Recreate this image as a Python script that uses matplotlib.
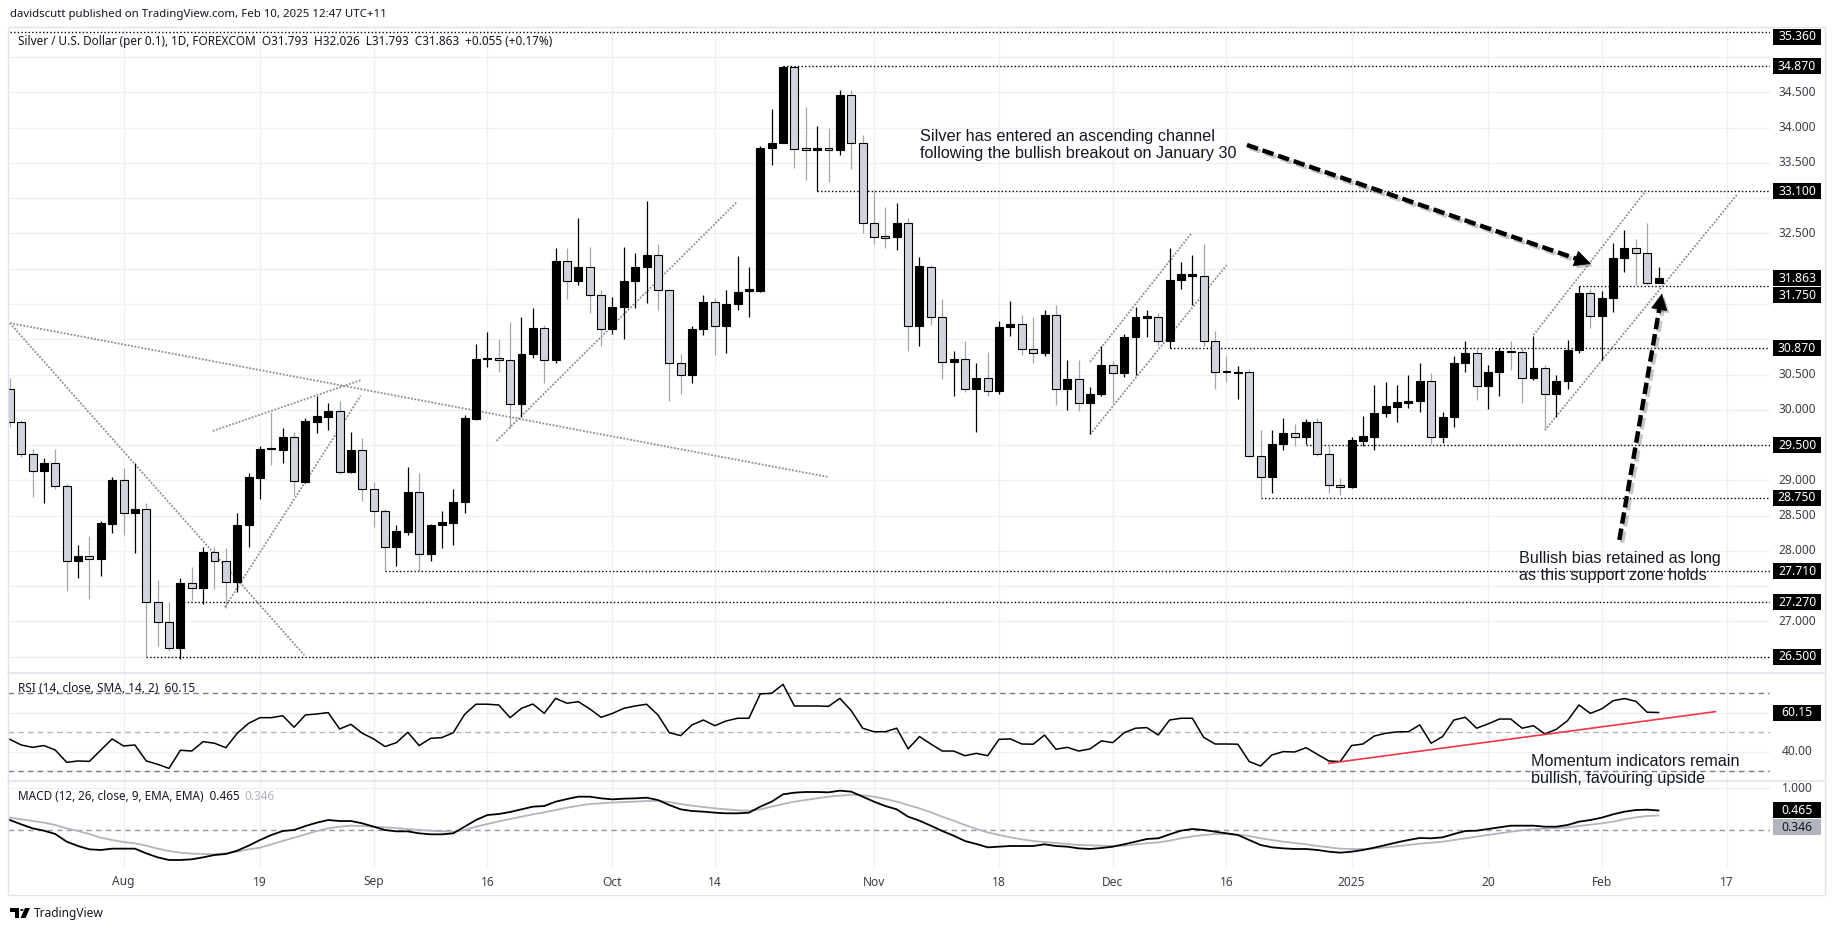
import numpy as np
import pandas as pd
import matplotlib
matplotlib.use("Agg")
import matplotlib.pyplot as plt
import matplotlib.patheffects as pe
from matplotlib import transforms
from matplotlib.patches import Rectangle, Polygon, Circle
from matplotlib.lines import Line2D

W, H = 1835, 931

# daily bars, no bar on Christmas and New Year's day
dates = pd.bdate_range("2024-07-18", "2025-02-10")
dates = dates[~dates.isin(pd.to_datetime(["2024-12-25", "2025-01-01"]))]

opens = [30.30, 29.82, 29.38, 29.13, 29.24, 28.92, 27.85, 27.92, 27.88, 28.38,
         29.00, 28.53, 28.59, 27.27, 26.99, 26.62, 27.55, 27.47, 27.98, 27.85, 27.56, 28.36, 29.04, 29.46, 29.43, 29.61, 28.98, 29.83, 29.90, 29.98, 29.12, 29.43,
         28.87, 28.56, 28.05, 28.27, 28.83, 27.95, 28.36, 28.40, 28.69, 29.87, 30.72, 30.73, 30.70, 30.08, 30.79, 31.16, 30.70, 32.11, 31.83, 32.03, 31.63,
         31.15, 31.46, 31.83, 32.02, 32.19, 31.70, 30.67, 30.50, 31.15, 31.53, 31.19, 31.50, 31.68, 31.69, 33.71, 33.79, 34.86, 33.71, 33.68, 33.71, 33.68, 34.46, 33.78,
         32.65, 32.46, 32.45, 32.65, 31.19, 32.03, 31.31, 30.68, 30.72, 30.30, 30.45, 30.26, 31.17, 31.21, 30.86, 30.80, 31.34, 30.30, 30.43, 30.09, 30.23,
         30.64, 30.52, 31.03, 31.30, 31.32, 30.97, 31.84, 31.90, 31.90, 30.97, 30.55, 30.52, 30.53, 29.35, 29.05, 29.52, 29.67, 29.62, 29.83, 29.38, 28.94,
         28.90, 29.56, 29.62, 29.96, 30.04, 30.10, 30.13, 30.41, 29.62, 29.90, 30.67, 30.81, 30.34, 30.53, 30.83, 30.82, 30.45, 30.59, 30.22, 30.41, 30.85, 31.65,
         31.33, 31.59, 32.15, 32.30, 32.22, 31.793]
highs = [30.45, 29.86, 29.44, 29.32, 29.45, 28.95, 28.08, 28.21, 28.42, 29.05,
         29.18, 29.24, 28.68, 27.59, 27.27, 27.61, 27.77, 28.05, 28.05, 28.04, 28.54, 29.10, 29.48, 29.97, 29.74, 29.69, 29.89, 30.20, 30.09, 30.12, 29.68, 29.60,
         28.97, 28.60, 28.37, 29.19, 29.11, 28.38, 28.56, 28.88, 29.93, 30.93, 31.10, 31.00, 31.24, 31.32, 31.44, 31.20, 32.29, 32.29, 32.72, 32.31, 31.70,
         31.60, 32.31, 32.22, 32.96, 32.35, 31.72, 30.79, 31.19, 31.63, 31.58, 31.70, 32.18, 32.02, 33.74, 34.27, 34.87, 34.87, 34.30, 34.02, 33.99, 34.54, 34.53, 33.90,
         33.12, 32.87, 32.93, 32.72, 32.16, 32.05, 31.57, 30.83, 30.98, 30.67, 30.82, 31.26, 31.54, 31.34, 31.32, 31.41, 31.49, 30.71, 30.71, 30.32, 30.91,
         30.69, 31.08, 31.46, 31.42, 31.37, 32.29, 32.10, 32.19, 32.35, 31.12, 30.76, 30.62, 30.58, 29.71, 29.71, 29.88, 29.80, 29.87, 29.89, 29.52, 29.04,
         29.61, 29.91, 30.35, 30.39, 30.35, 30.49, 30.67, 30.52, 29.97, 30.76, 30.98, 30.87, 30.63, 30.87, 30.97, 30.89, 31.05, 30.63, 30.49, 30.99, 31.75, 31.72,
         31.68, 32.37, 32.55, 32.42, 32.65, 32.026]
lows = [29.75, 29.33, 28.76, 28.68, 28.88, 27.43, 27.61, 27.32, 27.64, 28.26,
        28.22, 27.97, 26.50, 26.65, 26.58, 26.47, 27.30, 27.24, 27.46, 27.19, 27.42, 28.06, 28.74, 29.22, 29.24, 28.79, 28.96, 29.67, 29.72, 29.09, 29.11, 28.71,
        28.34, 27.71, 27.78, 28.22, 27.71, 27.85, 28.04, 28.08, 28.54, 29.86, 30.61, 30.53, 29.74, 29.90, 30.74, 30.38, 30.66, 31.57, 31.77, 31.37, 30.90,
        31.08, 31.01, 31.44, 31.51, 31.42, 30.13, 30.22, 30.38, 31.06, 30.78, 30.80, 31.42, 31.32, 31.67, 33.47, 33.78, 33.43, 33.26, 33.10, 33.23, 33.62, 33.42, 32.51,
        32.35, 32.30, 32.26, 30.84, 30.90, 31.20, 30.44, 30.20, 30.25, 29.69, 30.19, 30.22, 31.05, 30.78, 30.66, 30.76, 30.07, 30.00, 29.99, 29.66, 30.20,
        30.09, 30.47, 30.50, 31.03, 30.90, 30.87, 31.72, 31.49, 30.90, 30.29, 30.40, 30.15, 29.33, 28.76, 28.82, 29.43, 29.49, 29.52, 29.34, 28.82, 28.79,
        28.89, 29.49, 29.43, 29.90, 29.82, 30.02, 29.97, 29.52, 29.53, 29.76, 30.53, 30.14, 30.01, 30.20, 30.57, 30.10, 30.42, 29.71, 29.90, 30.30, 30.80, 31.16,
        30.71, 31.38, 31.96, 31.77, 31.77, 31.793]
closes = [29.83, 29.38, 29.13, 29.24, 28.92, 27.85, 27.93, 27.88, 28.40, 29.00,
          28.53, 28.59, 27.27, 26.99, 26.62, 27.55, 27.47, 27.98, 27.85, 27.56, 28.37, 29.05, 29.45, 29.44, 29.61, 28.99, 29.84, 29.91, 29.98, 29.12, 29.43, 28.87,
          28.56, 28.05, 28.28, 28.83, 27.95, 28.37, 28.41, 28.69, 29.88, 30.72, 30.74, 30.70, 30.08, 30.79, 31.16, 30.71, 32.11, 31.83, 32.03, 31.63, 31.15,
          31.46, 31.83, 32.02, 32.19, 31.70, 30.67, 30.50, 31.15, 31.53, 31.19, 31.50, 31.67, 31.71, 33.71, 33.79, 34.86, 33.70, 33.69, 33.71, 33.68, 34.46, 33.78, 32.65,
          32.45, 32.44, 32.65, 31.19, 32.04, 31.31, 30.68, 30.72, 30.30, 30.45, 30.26, 31.18, 31.21, 30.86, 30.80, 31.34, 30.30, 30.43, 30.09, 30.23, 30.64,
          30.52, 31.03, 31.31, 31.33, 30.97, 31.84, 31.92, 31.92, 30.97, 30.54, 30.53, 30.54, 29.35, 29.05, 29.52, 29.67, 29.62, 29.83, 29.38, 28.94, 28.90,
          29.57, 29.63, 29.96, 30.05, 30.11, 30.13, 30.41, 29.62, 29.90, 30.67, 30.81, 30.34, 30.53, 30.83, 30.82, 30.45, 30.59, 30.22, 30.41, 30.85, 31.65, 31.33,
          31.59, 32.15, 32.30, 32.22, 31.80, 31.863]

rsi = [46.4, 43.5, 42.3, 43.2, 40.9, 34.6, 35.3, 35.1, 40.9, 46.6,
       43.0, 43.5, 35.3, 33.6, 31.5, 40.8, 40.4, 45.2, 44.4, 42.1, 49.5, 54.6, 57.5, 57.5, 58.5, 52.6, 58.9, 59.4, 60.1, 51.7, 54.1, 49.5,
       46.6, 42.7, 44.7, 50.0, 43.2, 46.9, 47.3, 49.8, 59.2, 64.4, 64.4, 64.0, 57.5, 62.3, 64.5, 59.7, 67.4, 64.9, 65.7, 62.0, 57.7,
       59.7, 62.3, 63.5, 64.4, 58.9, 49.8, 48.3, 53.8, 56.3, 53.4, 55.8, 57.2, 57.2, 69.7, 70.0, 74.6, 63.5, 63.5, 63.5, 63.3, 67.4, 61.1, 52.1,
       50.3, 50.3, 52.1, 41.5, 47.8, 44.0, 40.4, 40.4, 38.0, 39.2, 38.0, 46.4, 46.6, 44.0, 43.9, 48.6, 41.3, 42.3, 40.4, 41.5, 45.6,
       44.7, 49.8, 52.1, 52.4, 48.6, 56.3, 57.2, 57.2, 47.4, 44.0, 44.0, 43.9, 35.0, 32.7, 38.4, 40.1, 39.9, 42.1, 38.7, 35.3, 35.0,
       43.2, 44.0, 48.1, 49.5, 50.2, 50.3, 53.8, 44.4, 47.8, 56.3, 57.7, 52.1, 54.3, 56.8, 56.8, 52.1, 53.4, 49.1, 51.5, 56.0, 64.0, 59.7,
       62.0, 66.2, 67.3, 65.9, 60.3, 60.15]

macd = [0.238, 0.135, 0.040, -0.016, -0.095, -0.278, -0.381, -0.460, -0.476, -0.444,
        -0.444, -0.444, -0.556, -0.651, -0.714, -0.714, -0.698, -0.651, -0.595, -0.571, -0.492, -0.373, -0.238, -0.119, -0.024, 0.000, 0.095, 0.175, 0.238, 0.214, 0.214, 0.159,
        0.079, 0.000, -0.032, -0.032, -0.079, -0.103, -0.103, -0.079, 0.079, 0.238, 0.357, 0.381, 0.429, 0.492, 0.556, 0.571, 0.675, 0.738, 0.794, 0.794, 0.754,
        0.730, 0.746, 0.754, 0.770, 0.714, 0.595, 0.492, 0.452, 0.437, 0.413, 0.397, 0.397, 0.413, 0.556, 0.675, 0.849, 0.889, 0.905, 0.905, 0.897, 0.937, 0.913, 0.794,
        0.675, 0.571, 0.492, 0.317, 0.222, 0.103, -0.024, -0.135, -0.262, -0.333, -0.413, -0.397, -0.381, -0.381, -0.381, -0.341, -0.381, -0.397, -0.437, -0.452, -0.429,
        -0.397, -0.341, -0.278, -0.214, -0.198, -0.103, -0.016, 0.024, 0.000, -0.040, -0.079, -0.119, -0.238, -0.357, -0.413, -0.437, -0.452, -0.452, -0.476, -0.516, -0.540,
        -0.516, -0.476, -0.421, -0.357, -0.294, -0.238, -0.190, -0.198, -0.175, -0.095, -0.024, -0.016, 0.024, 0.063, 0.103, 0.103, 0.103, 0.079, 0.079, 0.119, 0.198, 0.238,
        0.294, 0.373, 0.437, 0.476, 0.484, 0.465]
signal = [0.294, 0.254, 0.214, 0.175, 0.119, 0.040, -0.024, -0.095, -0.183, -0.238,
          -0.286, -0.317, -0.373, -0.444, -0.500, -0.540, -0.563, -0.571, -0.579, -0.556, -0.516, -0.460, -0.421, -0.341, -0.262, -0.183, -0.103, -0.024, 0.040, 0.079, 0.103, 0.095,
          0.079, 0.063, 0.048, 0.024, 0.000, -0.016, -0.032, -0.040, 0.000, 0.079, 0.143, 0.206, 0.262, 0.317, 0.373, 0.421, 0.476, 0.532, 0.579, 0.619, 0.635,
          0.655, 0.665, 0.675, 0.690, 0.695, 0.665, 0.619, 0.579, 0.548, 0.516, 0.492, 0.468, 0.460, 0.492, 0.556, 0.619, 0.675, 0.714, 0.754, 0.794, 0.817, 0.841, 0.825,
          0.794, 0.738, 0.675, 0.595, 0.516, 0.421, 0.317, 0.222, 0.119, 0.024, -0.056, -0.119, -0.175, -0.222, -0.262, -0.286, -0.310, -0.333, -0.357, -0.365, -0.373,
          -0.381, -0.373, -0.341, -0.317, -0.294, -0.254, -0.198, -0.151, -0.119, -0.095, -0.095, -0.111, -0.143, -0.198, -0.238, -0.278, -0.310, -0.341, -0.381, -0.413, -0.444,
          -0.452, -0.452, -0.437, -0.413, -0.389, -0.357, -0.325, -0.302, -0.278, -0.238, -0.198, -0.159, -0.119, -0.079, -0.040, -0.008, 0.016, 0.032, 0.048, 0.063, 0.095, 0.127,
          0.159, 0.198, 0.254, 0.302, 0.333, 0.346]

# horizontal levels drawn on the chart and the bar they start from
levels = [35.36, 34.87, 33.10, 31.75, 30.87, 29.50, 28.75, 27.71, 27.27, 26.50]
level_from = ["2024-07-18", "2024-10-22", "2024-10-25", "2025-01-30", "2024-12-09",
              "2024-12-26", "2024-12-19", "2024-09-03", "2024-08-08", "2024-08-05"]

# trend lines / channels, (bar index, price) pairs
trend_lines = [((0.0, 31.23), (25.9, 26.52)),
               ((0.0, 31.23), (71.9, 29.05)),
               ((17.85, 29.70), (30.85, 30.42)),
               ((18.9, 27.20), (30.85, 30.20)),
               ((42.8, 29.56), (63.9, 32.94)),
               ((95.0, 30.68), (103.9, 32.50)),
               ((95.0, 29.65), (107.0, 32.05)),
               ((134.0, 31.06), (143.9, 33.11)),
               ((135.0, 29.71), (151.9, 33.05))]
rsi_trend = ((116.0, 34.1), (150.0, 60.6))

tick_dates = ["2024-08-01", "2024-08-19", "2024-09-02", "2024-09-16", "2024-10-01", "2024-10-14",
              "2024-11-01", "2024-11-18", "2024-12-02", "2024-12-16", "2025-01-02", "2025-01-20", "2025-02-03"]
tick_labels = ["Aug", "19", "Sep", "16", "Oct", "14", "Nov", "18", "Dec", "16", "2025", "20", "Feb", "17"]

UI = ["Noto Sans", "DejaVu Sans"]
ARIAL = ["Liberation Sans", "DejaVu Sans"]
TXT = "#131722"
GRID = "#eef0f4"

x = np.arange(len(dates))
o, hi, lo, c = map(np.array, (opens, highs, lows, closes))
tick_idx = [dates.get_loc(pd.Timestamp(d)) for d in tick_dates] + [len(dates) - 1 + 6]
XMIN, XMAX = -0.16, 154.8

fig = plt.figure(figsize=(W / 100, H / 100), dpi=100)
fig.patch.set_facecolor("white")


def pane(y0, y1):
    return [8 / W, 1 - y1 / H, (1770 - 8) / W, (y1 - y0) / H]


ax = fig.add_axes(pane(27, 673))
ax_rsi = fig.add_axes(pane(673, 781))
ax_macd = fig.add_axes(pane(781, 867))
for a in (ax, ax_rsi, ax_macd):
    a.set_xlim(XMIN, XMAX)
    a.axis("off")
    for t in tick_idx:
        a.axvline(t, color=GRID, lw=1, zorder=0)
ax.set_ylim(26.268, 35.428)
ax_rsi.set_ylim(25.03, 80.41)
ax_macd.set_ylim(-0.881, 1.167)

for v in np.arange(26.5, 35.01, 0.5):
    ax.axhline(v, color=GRID, lw=1, zorder=0)

# levels and drawings
for v, d in zip(levels, level_from):
    i0 = dates.get_loc(pd.Timestamp(d))
    ax.plot([i0, XMAX], [v, v], color="black", lw=1.0, ls=(0, (1, 1.6)), zorder=2)
for (x0, y0), (x1, y1) in trend_lines:
    ax.plot([x0, x1], [y0, y1], color="#8a8d96", lw=1.3, ls=(0, (1, 0.9)), zorder=2)

# candles
up = c >= o
ax.vlines(x[up], lo[up], hi[up], color="black", lw=0.9, zorder=3)
ax.vlines(x[~up], lo[~up], hi[~up], color="#a3a6af", lw=0.9, zorder=3)
body_lo = np.minimum(o, c)
body_h = np.maximum(np.abs(c - o), 0.012)
ax.bar(x[up], body_h[up], bottom=body_lo[up], width=0.7, color="black", edgecolor="black", lw=0.8, zorder=4)
ax.bar(x[~up], body_h[~up], bottom=body_lo[~up], width=0.7, color="#d1d4dc", edgecolor="black", lw=0.8, zorder=4)


def dashed_arrow(p0, p1):
    d0 = ax.transData.transform(p0)
    d1 = ax.transData.transform(p1)
    u = (d1 - d0) / np.hypot(*(d1 - d0))
    pm = ax.transData.inverted().transform(d1 - u * 10)
    shadow = [pe.SimpleLineShadow(offset=(2, -2), shadow_color="black", alpha=0.22), pe.Normal()]
    ax.plot([p0[0], pm[0]], [p0[1], pm[1]], color="black", lw=3.2, dashes=(2.6, 1.1),
            dash_capstyle="butt", zorder=6, path_effects=shadow)
    ann = ax.annotate("", xy=p1, xytext=pm, zorder=6,
                      arrowprops=dict(arrowstyle="-|>,head_length=1.1,head_width=0.55",
                                      color="black", lw=0.5, shrinkA=0, shrinkB=0))
    ann.arrow_patch.set_path_effects([pe.SimplePatchShadow(offset=(2, -2), alpha=0.22), pe.Normal()])


dashed_arrow((108.8, 33.755), (139.05, 32.07))
dashed_arrow((141.55, 28.155), (145.3, 31.65))

# RSI pane
ax_rsi.axhline(70, color="#787b86", lw=1, ls=(0, (4, 3)), zorder=1)
ax_rsi.axhline(50, color="#b2b5be", lw=1, ls=(0, (4, 3)), zorder=1)
ax_rsi.axhline(30, color="#787b86", lw=1, ls=(0, (4, 3)), zorder=1)
for v in (40, 60):
    ax_rsi.axhline(v, color=GRID, lw=1, zorder=0)
ax_rsi.plot(x, rsi, color="black", lw=1.1, zorder=3)
ax_rsi.plot(*zip(*rsi_trend), color="#f23645", lw=1.2, zorder=3)

# MACD pane
ax_macd.axhline(1.0, color=GRID, lw=1, zorder=0)
ax_macd.axhline(0.0, color="#9598a1", lw=1, ls=(0, (4, 3)), zorder=1)
ax_macd.plot(x, signal, color="#b2b5be", lw=1.3, zorder=2)
ax_macd.plot(x, macd, color="black", lw=1.3, zorder=3)

# frame and pane separators
FRAME = "#e0e3eb"
fig.add_artist(Rectangle((8 / W, 1 - 895 / H), (1825 - 8) / W, (895 - 27) / H,
                         transform=fig.transFigure, fill=False, ec=FRAME, lw=1, zorder=1))
for yy in (673, 781):
    fig.add_artist(Line2D([8 / W, 1825 / W], [1 - yy / H, 1 - yy / H], transform=fig.transFigure,
                          color=FRAME, lw=1.2, zorder=1))


def fig_y(axis, v):
    return axis.transData.transform((0, v))[1] / H


def tag(axis, v, text, fc="black", tc="white", shift=0):
    y = fig_y(axis, v) - shift / H
    fig.add_artist(Rectangle((1773 / W, y - 8 / H), 48 / W, 16 / H, transform=fig.transFigure,
                             fc=fc, ec="none", zorder=10))
    fig.text(1797 / W, y, text, ha="center", va="center", color=tc, fontsize=8.8,
             fontweight="bold", family=UI, zorder=11)
    return y * H


# price scale: value tags first, plain tick labels only where a tag leaves room
tag_px = [tag(ax, v, f"{v:.3f}", shift=s) for v, s in zip(levels, [5, 0, 0, 9, 0, 0, 0, 0, 0, 0])]
tag_px.append(tag(ax, closes[-1], f"{closes[-1]:.3f}"))
for v in np.arange(26.5, 35.01, 0.5):
    yp = fig_y(ax, v) * H
    if min(abs(yp - t) for t in tag_px) < 16:
        continue
    fig.text(1797 / W, yp / H, f"{v:.3f}", ha="center", va="center", color="#3b3e48",
             fontsize=8.6, family=UI, zorder=5)

fig.text(1797 / W, fig_y(ax_rsi, 40), "40.00", ha="center", va="center", color="#3b3e48",
         fontsize=8.6, family=UI, zorder=5)
tag(ax_rsi, rsi[-1], f"{rsi[-1]:.2f}")
fig.text(1797 / W, fig_y(ax_macd, 1.0), "1.000", ha="center", va="center", color="#3b3e48",
         fontsize=8.6, family=UI, zorder=5)
tag(ax_macd, macd[-1], f"{macd[-1]:.3f}")
tag(ax_macd, signal[-1], f"{signal[-1]:.3f}", fc="#b2b5be", tc="#131722", shift=12)

# time axis
date_tr = transforms.blended_transform_factory(ax_macd.transData, fig.transFigure)
for t, s in zip(tick_idx, tick_labels):
    ax_macd.text(t, 1 - 882 / H, s, transform=date_tr, ha="center", va="center", color="#3b3e48",
                 fontsize=8.6, family=UI, fontweight="bold" if s == "2025" else "normal", clip_on=False)

renderer = fig.canvas.get_renderer()


def fit(t, width_px):
    w = t.get_window_extent(renderer).width
    t.set_fontsize(t.get_fontsize() * width_px / w)
    return t


# header and legends
fit(fig.text(10 / W, 1 - 15 / H, "davidscutt published on TradingView.com, Feb 10, 2025 12:47 UTC+11",
             va="center", ha="left", color=TXT, fontsize=9, family=UI), 375)
fit(fig.text(18 / W, 1 - 42 / H,
             "Silver / U.S. Dollar (per 0.1), 1D, FOREXCOM  O31.793  H32.026  L31.793  C31.863  +0.055 (+0.17%)",
             va="center", ha="left", color=TXT, fontsize=9, family=UI), 533)
fit(fig.text(18 / W, 1 - 689 / H, "RSI (14, close, SMA, 14, 2)  60.15",
             va="center", ha="left", color=TXT, fontsize=9, family=UI), 177)
m1 = fit(fig.text(18 / W, 1 - 797 / H, "MACD (12, 26, close, 9, EMA, EMA)  0.465",
                  va="center", ha="left", color=TXT, fontsize=9, family=UI), 222)
ax_macd.annotate("0.346", xy=(1, 0.5), xycoords=m1, xytext=(5, 0), textcoords="offset pixels",
                 va="center", ha="left", color="#b2b5be", fontsize=m1.get_fontsize(), family=UI,
                 annotation_clip=False)

# annotations
fit(fig.text(920 / W, 1 - 145 / H,
             "Silver has entered an ascending channel\nfollowing the bullish breakout on January 30",
             va="center", ha="left", color=TXT, fontsize=12, family=ARIAL, linespacing=1.15), 317)
fit(fig.text(1519 / W, 1 - 567 / H, "Bullish bias retained as long\nas this support zone holds",
             va="center", ha="left", color=TXT, fontsize=12, family=ARIAL, linespacing=1.15), 202)
fit(fig.text(1531 / W, 1 - 770 / H, "Momentum indicators remain\nbullish, favouring upside",
             va="center", ha="left", color=TXT, fontsize=12, family=ARIAL, linespacing=1.15), 209)

# TradingView logo
fig.add_artist(Polygon([(10 / W, 1 - 908 / H), (19 / W, 1 - 908 / H), (19 / W, 1 - 918 / H),
                        (14.5 / W, 1 - 918 / H), (14.5 / W, 1 - 911.5 / H), (10 / W, 1 - 911.5 / H)],
                       closed=True, transform=fig.transFigure, fc="black", ec="none"))
fig.add_artist(Circle((21.8 / W, 1 - 910 / H), 1.8 / W, transform=fig.transFigure, fc="black", ec="none"))
fig.add_artist(Polygon([(25 / W, 1 - 908 / H), (30 / W, 1 - 908 / H), (25.5 / W, 1 - 918 / H),
                        (20.5 / W, 1 - 918 / H)],
                       closed=True, transform=fig.transFigure, fc="black", ec="none"))
fit(fig.text(33.5 / W, 1 - 913 / H, "TradingView", va="center", ha="left", color=TXT,
             fontsize=10, family=UI), 70)

fig.savefig("out.png", dpi=100, facecolor="white")
